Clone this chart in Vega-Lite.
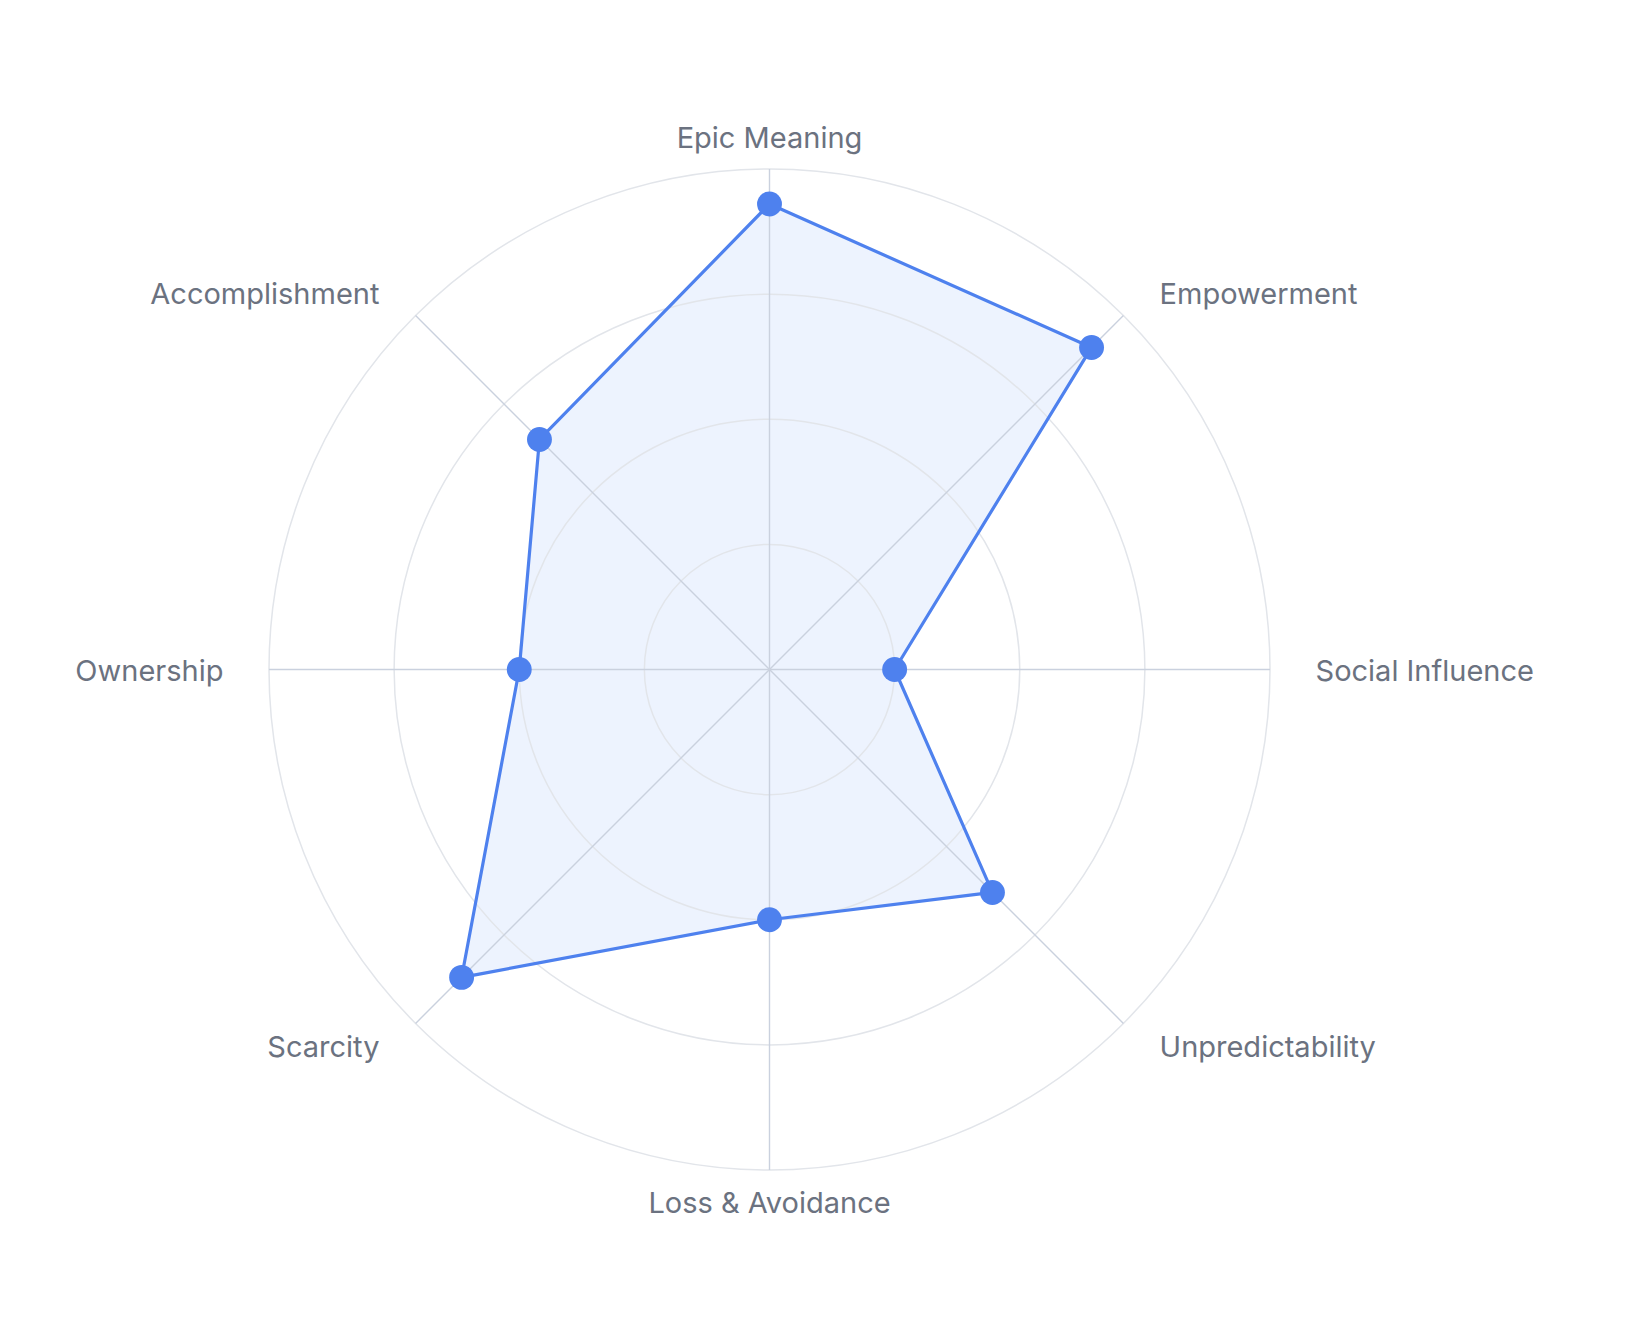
{
  "$schema": "https://vega.github.io/schema/vega-lite/v6.json",
  "width": 1001,
  "height": 1001,
  "autosize": {"type": "none"},
  "padding": {"left": 269, "top": 169, "right": 358, "bottom": 150},
  "background": "white",
  "config": {"view": {"stroke": null}},
  "datasets": {
    "scores": [
      {"category": "Epic Meaning", "value": 93},
      {"category": "Empowerment", "value": 91},
      {"category": "Social Influence", "value": 25},
      {"category": "Unpredictability", "value": 63},
      {"category": "Loss & Avoidance", "value": 50},
      {"category": "Scarcity", "value": 87},
      {"category": "Ownership", "value": 50},
      {"category": "Accomplishment", "value": 65}
    ],
    "rings": [{"r": 25}, {"r": 50}, {"r": 75}, {"r": 100}]
  },
  "layer": [
    {
      "data": {"name": "scores"},
      "transform": [
        {"window": [{"op": "row_number", "as": "idx"}]},
        {"calculate": "(datum.idx - 1) * PI / 4", "as": "a"},
        {"calculate": "datum.value * sin(datum.a)", "as": "px"},
        {"calculate": "datum.value * cos(datum.a)", "as": "py"}
      ],
      "mark": {"type": "line", "interpolate": "linear-closed", "stroke": null, "strokeWidth": 0, "fill": "#EDF3FE", "fillOpacity": 1},
      "encoding": {
        "x": {"field": "px", "type": "quantitative", "scale": {"domain": [-100, 100], "nice": false, "zero": false}, "axis": null},
        "y": {"field": "py", "type": "quantitative", "scale": {"domain": [-100, 100], "nice": false, "zero": false}, "axis": null},
        "order": {"field": "idx", "type": "quantitative"}
      }
    },
    {
      "data": {"name": "rings"},
      "mark": {"type": "arc", "theta": 0, "theta2": 6.283185307179586, "fill": null, "filled": false, "stroke": "#E2E5EA", "strokeWidth": 1.5},
      "encoding": {
        "radius": {"field": "r", "type": "quantitative", "stack": null, "scale": {"type": "linear", "domain": [0, 100], "range": [0, 500.5], "zero": true, "nice": false}}
      }
    },
    {
      "data": {"name": "scores"},
      "transform": [
        {"window": [{"op": "row_number", "as": "idx"}]},
        {"calculate": "(datum.idx - 1) * PI / 4", "as": "a"},
        {"calculate": "0", "as": "c0"},
        {"calculate": "datum.value * sin(datum.a)", "as": "px"},
        {"calculate": "datum.value * cos(datum.a)", "as": "py"},
        {"calculate": "100 * sin(datum.a)", "as": "sx"},
        {"calculate": "100 * cos(datum.a)", "as": "sy"},
        {"calculate": "106.4 * sin(datum.a)", "as": "lx"},
        {"calculate": "106.4 * cos(datum.a)", "as": "ly"}
      ],
      "layer": [
        {
          "mark": {"type": "rule", "stroke": "#CAD1DE", "strokeWidth": 1.4},
          "encoding": {
            "x": {"field": "c0", "type": "quantitative", "scale": {"domain": [-100, 100], "nice": false, "zero": false}, "axis": null},
            "y": {"field": "c0", "type": "quantitative", "scale": {"domain": [-100, 100], "nice": false, "zero": false}, "axis": null},
            "x2": {"field": "sx"},
            "y2": {"field": "sy"}
          }
        },
        {
          "mark": {"type": "line", "interpolate": "linear-closed", "stroke": "#4E81EE", "strokeWidth": 3.2, "fill": null},
          "encoding": {
            "x": {"field": "px", "type": "quantitative"},
            "y": {"field": "py", "type": "quantitative"},
            "order": {"field": "idx", "type": "quantitative"}
          }
        },
        {
          "mark": {"type": "point", "filled": true, "shape": "circle", "size": 620, "color": "#4E81EE", "opacity": 1},
          "encoding": {
            "x": {"field": "px", "type": "quantitative"},
            "y": {"field": "py", "type": "quantitative"}
          }
        },
        {
          "transform": [{"filter": "datum.idx == 1 || datum.idx == 5"}],
          "mark": {"type": "text", "align": "center", "baseline": "middle", "dy": 2, "font": "Inter", "fontSize": 29, "color": "#6B7280"},
          "encoding": {
            "x": {"field": "lx", "type": "quantitative"},
            "y": {"field": "ly", "type": "quantitative"},
            "text": {"field": "category"}
          }
        },
        {
          "transform": [{"filter": "datum.idx >= 2 && datum.idx <= 4"}],
          "mark": {"type": "text", "align": "left", "baseline": "middle", "dx": 13.5, "dy": 2, "font": "Inter", "fontSize": 29, "color": "#6B7280"},
          "encoding": {
            "x": {"field": "lx", "type": "quantitative"},
            "y": {"field": "ly", "type": "quantitative"},
            "text": {"field": "category"}
          }
        },
        {
          "transform": [{"filter": "datum.idx >= 6"}],
          "mark": {"type": "text", "align": "right", "baseline": "middle", "dx": -13.5, "dy": 2, "font": "Inter", "fontSize": 29, "color": "#6B7280"},
          "encoding": {
            "x": {"field": "lx", "type": "quantitative"},
            "y": {"field": "ly", "type": "quantitative"},
            "text": {"field": "category"}
          }
        }
      ]
    }
  ]
}
